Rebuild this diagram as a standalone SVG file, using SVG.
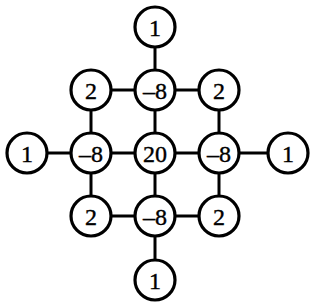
<svg xmlns="http://www.w3.org/2000/svg" width="311" height="304" viewBox="0 0 311 304">
<style>
.n circle{fill:#fff;stroke:#000;stroke-width:3.2}
.n text{font-family:"Liberation Serif","Times New Roman",serif;font-size:24px;text-anchor:middle;dominant-baseline:central;fill:#000;stroke:#000;stroke-width:0.4}
.e line{stroke:#000;stroke-width:3}
</style>
<rect width="311" height="304" fill="#fff"/>
<g id="connectors" class="e">
<line x1="155" y1="27" x2="155" y2="90"/>
<line x1="91" y1="90" x2="219" y2="90"/>
<line x1="91" y1="90" x2="91" y2="216"/>
<line x1="155" y1="90" x2="155" y2="280"/>
<line x1="219" y1="90" x2="219" y2="216"/>
<line x1="27" y1="153" x2="288" y2="153"/>
<line x1="91" y1="216" x2="219" y2="216"/>
</g>
<g id="n_top" class="n"><circle cx="155" cy="27" r="20"/><text x="155" y="28">1</text></g>
<g id="n_r1c1" class="n"><circle cx="91" cy="90" r="20"/><text x="91" y="91">2</text></g>
<g id="n_r1c2" class="n"><circle cx="155" cy="90" r="20"/><text x="155" y="91">–8</text></g>
<g id="n_r1c3" class="n"><circle cx="219" cy="90" r="20"/><text x="219" y="91">2</text></g>
<g id="n_left" class="n"><circle cx="27" cy="153" r="20"/><text x="27" y="154">1</text></g>
<g id="n_r2c1" class="n"><circle cx="91" cy="153" r="20"/><text x="91" y="154">–8</text></g>
<g id="n_center" class="n"><circle cx="155" cy="153" r="20"/><text x="155" y="154">20</text></g>
<g id="n_r2c3" class="n"><circle cx="219" cy="153" r="20"/><text x="219" y="154">–8</text></g>
<g id="n_right" class="n"><circle cx="288" cy="153" r="20"/><text x="288" y="154">1</text></g>
<g id="n_r3c1" class="n"><circle cx="91" cy="216" r="20"/><text x="91" y="217">2</text></g>
<g id="n_r3c2" class="n"><circle cx="155" cy="216" r="20"/><text x="155" y="217">–8</text></g>
<g id="n_r3c3" class="n"><circle cx="219" cy="216" r="20"/><text x="219" y="217">2</text></g>
<g id="n_bottom" class="n"><circle cx="155" cy="280" r="20"/><text x="155" y="281">1</text></g>
</svg>
